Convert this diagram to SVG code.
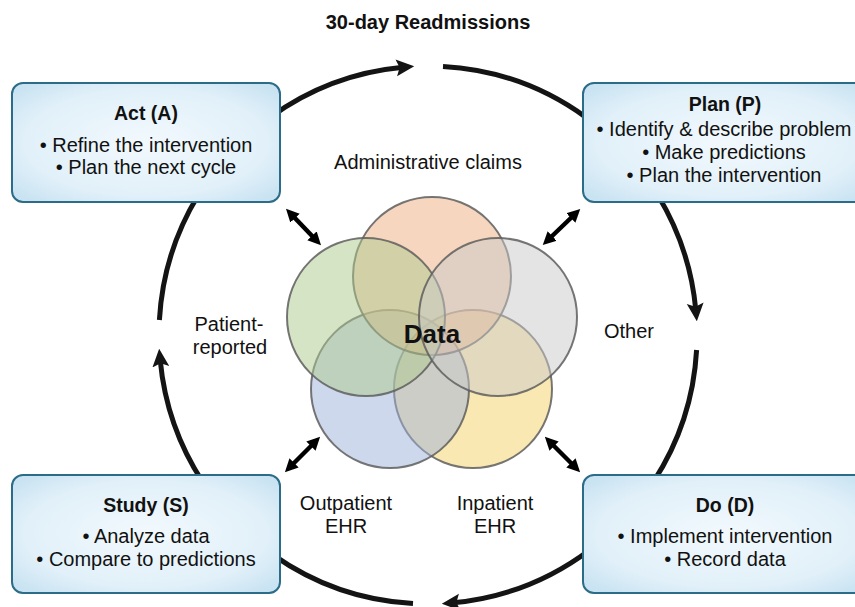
<svg xmlns="http://www.w3.org/2000/svg" width="855" height="607" viewBox="0 0 855 607">
  <style>
    text { font-family: "Liberation Sans", Arial, sans-serif; fill: #111; text-anchor: middle; }
    .title { font-size: 20px; font-weight: bold; }
    .head { font-size: 19.5px; font-weight: bold; }
    .item { font-size: 20px; }
    .lbl { font-size: 20px; }
    .core { font-size: 26px; font-weight: bold; }
    .box { fill: url(#boxFill); stroke: #2b6c88; stroke-width: 2; }
    .cycle { fill: none; stroke: #141414; stroke-width: 5; }
    .venn { stroke: #5e5e5e; stroke-width: 2; stroke-opacity: 0.85; fill-opacity: 0.5; }
    .link { stroke: #000; stroke-width: 4.5; fill: none; }
  </style>
  <defs>
    <radialGradient id="boxFill" cx="50%" cy="50%" r="65%">
      <stop offset="0" stop-color="#f2f9fd"/>
      <stop offset="0.7" stop-color="#e1f0f9"/>
      <stop offset="1" stop-color="#c9e3f2"/>
    </radialGradient>
    <marker id="head" viewBox="0 0 16 16" markerWidth="18" markerHeight="18" markerUnits="userSpaceOnUse" refX="6" refY="8" orient="auto">
      <path d="M0,0.5 L16,8 L0,15.5 L3,8 z" fill="#141414"/>
    </marker>
    <marker id="tip" viewBox="0 0 12 12" markerWidth="13" markerHeight="13" markerUnits="userSpaceOnUse" refX="4" refY="6" orient="auto-start-reverse">
      <path d="M0,0 L12,6 L0,12 z" fill="#000"/>
    </marker>
  </defs>

  <text class="title" x="428" y="29">30-day Readmissions</text>

  <!-- PDSA cycle ring, drawn clockwise -->
  <g id="connectors">
    <path class="cycle" d="M269.9,117.4 A269,269 0 0 1 403.0,67.2" marker-end="url(#head)"/>
    <path class="cycle" d="M443.0,66.4 A269,269 0 0 1 586.1,117.4"/>
    <path class="cycle" d="M657.7,195 A269,269 0 0 1 695.8,310.0" marker-end="url(#head)"/>
    <path class="cycle" d="M696.6,350.0 A269,269 0 0 1 653.3,482"/>
    <path class="cycle" d="M590,549.7 A269,269 0 0 1 453.0,602.8" marker-end="url(#head)"/>
    <path class="cycle" d="M413.0,603.6 A269,269 0 0 1 273,554.9"/>
    <path class="cycle" d="M202.7,482 A269,269 0 0 1 160.2,360.0" marker-end="url(#head)"/>
    <path class="cycle" d="M159.4,320.0 A269,269 0 0 1 198.3,195"/>

    <!-- two-way links between the data sources and each phase -->
    <line class="link" x1="292" y1="215" x2="315" y2="239" marker-start="url(#tip)" marker-end="url(#tip)"/>
    <line class="link" x1="574" y1="215" x2="549" y2="239" marker-start="url(#tip)" marker-end="url(#tip)"/>
    <line class="link" x1="314" y1="443" x2="291" y2="466" marker-start="url(#tip)" marker-end="url(#tip)"/>
    <line class="link" x1="551" y1="443" x2="574" y2="466" marker-start="url(#tip)" marker-end="url(#tip)"/>
  </g>

  <g id="act">
    <rect class="box" x="12" y="83" width="268" height="119" rx="11"/>
    <text class="head" x="146" y="120">Act (A)</text>
    <text class="item" x="146" y="152">• Refine the intervention</text>
    <text class="item" x="146" y="174">• Plan the next cycle</text>
  </g>

  <g id="plan">
    <rect class="box" x="583" y="83" width="290" height="119" rx="11"/>
    <text class="head" x="725" y="111">Plan (P)</text>
    <text class="item" x="724" y="136">• Identify &amp; describe problem</text>
    <text class="item" x="724" y="159">• Make predictions</text>
    <text class="item" x="724" y="182">• Plan the intervention</text>
  </g>

  <g id="study">
    <rect class="box" x="12" y="475" width="268" height="118" rx="11"/>
    <text class="head" x="146" y="512">Study (S)</text>
    <text class="item" x="146" y="543">• Analyze data</text>
    <text class="item" x="146" y="566">• Compare to predictions</text>
  </g>

  <g id="do">
    <rect class="box" x="583" y="475" width="290" height="118" rx="11"/>
    <text class="head" x="725" y="512">Do (D)</text>
    <text class="item" x="725" y="543">• Implement intervention</text>
    <text class="item" x="725" y="566">• Record data</text>
  </g>

  <!-- overlapping data sources -->
  <g id="data">
    <circle class="venn" cx="473" cy="389" r="79" fill="#f5d165"/>
    <circle class="venn" cx="390" cy="389" r="79" fill="#9db1d9"/>
    <circle class="venn" cx="432" cy="276" r="79" fill="#edad7d"/>
    <circle class="venn" cx="366" cy="317" r="79" fill="#adc98d"/>
    <circle class="venn" cx="498" cy="317" r="79" fill="#c9c9c9"/>
    <text class="core" x="432" y="343">Data</text>
  </g>

  <g id="labels">
    <text class="lbl" x="428" y="169">Administrative claims</text>
    <text class="lbl" x="229" y="331">Patient-</text>
    <text class="lbl" x="230" y="354">reported</text>
    <text class="lbl" x="629" y="338">Other</text>
    <text class="lbl" x="346" y="510">Outpatient</text>
    <text class="lbl" x="346" y="533">EHR</text>
    <text class="lbl" x="495" y="510">Inpatient</text>
    <text class="lbl" x="495" y="533">EHR</text>
  </g>
</svg>
